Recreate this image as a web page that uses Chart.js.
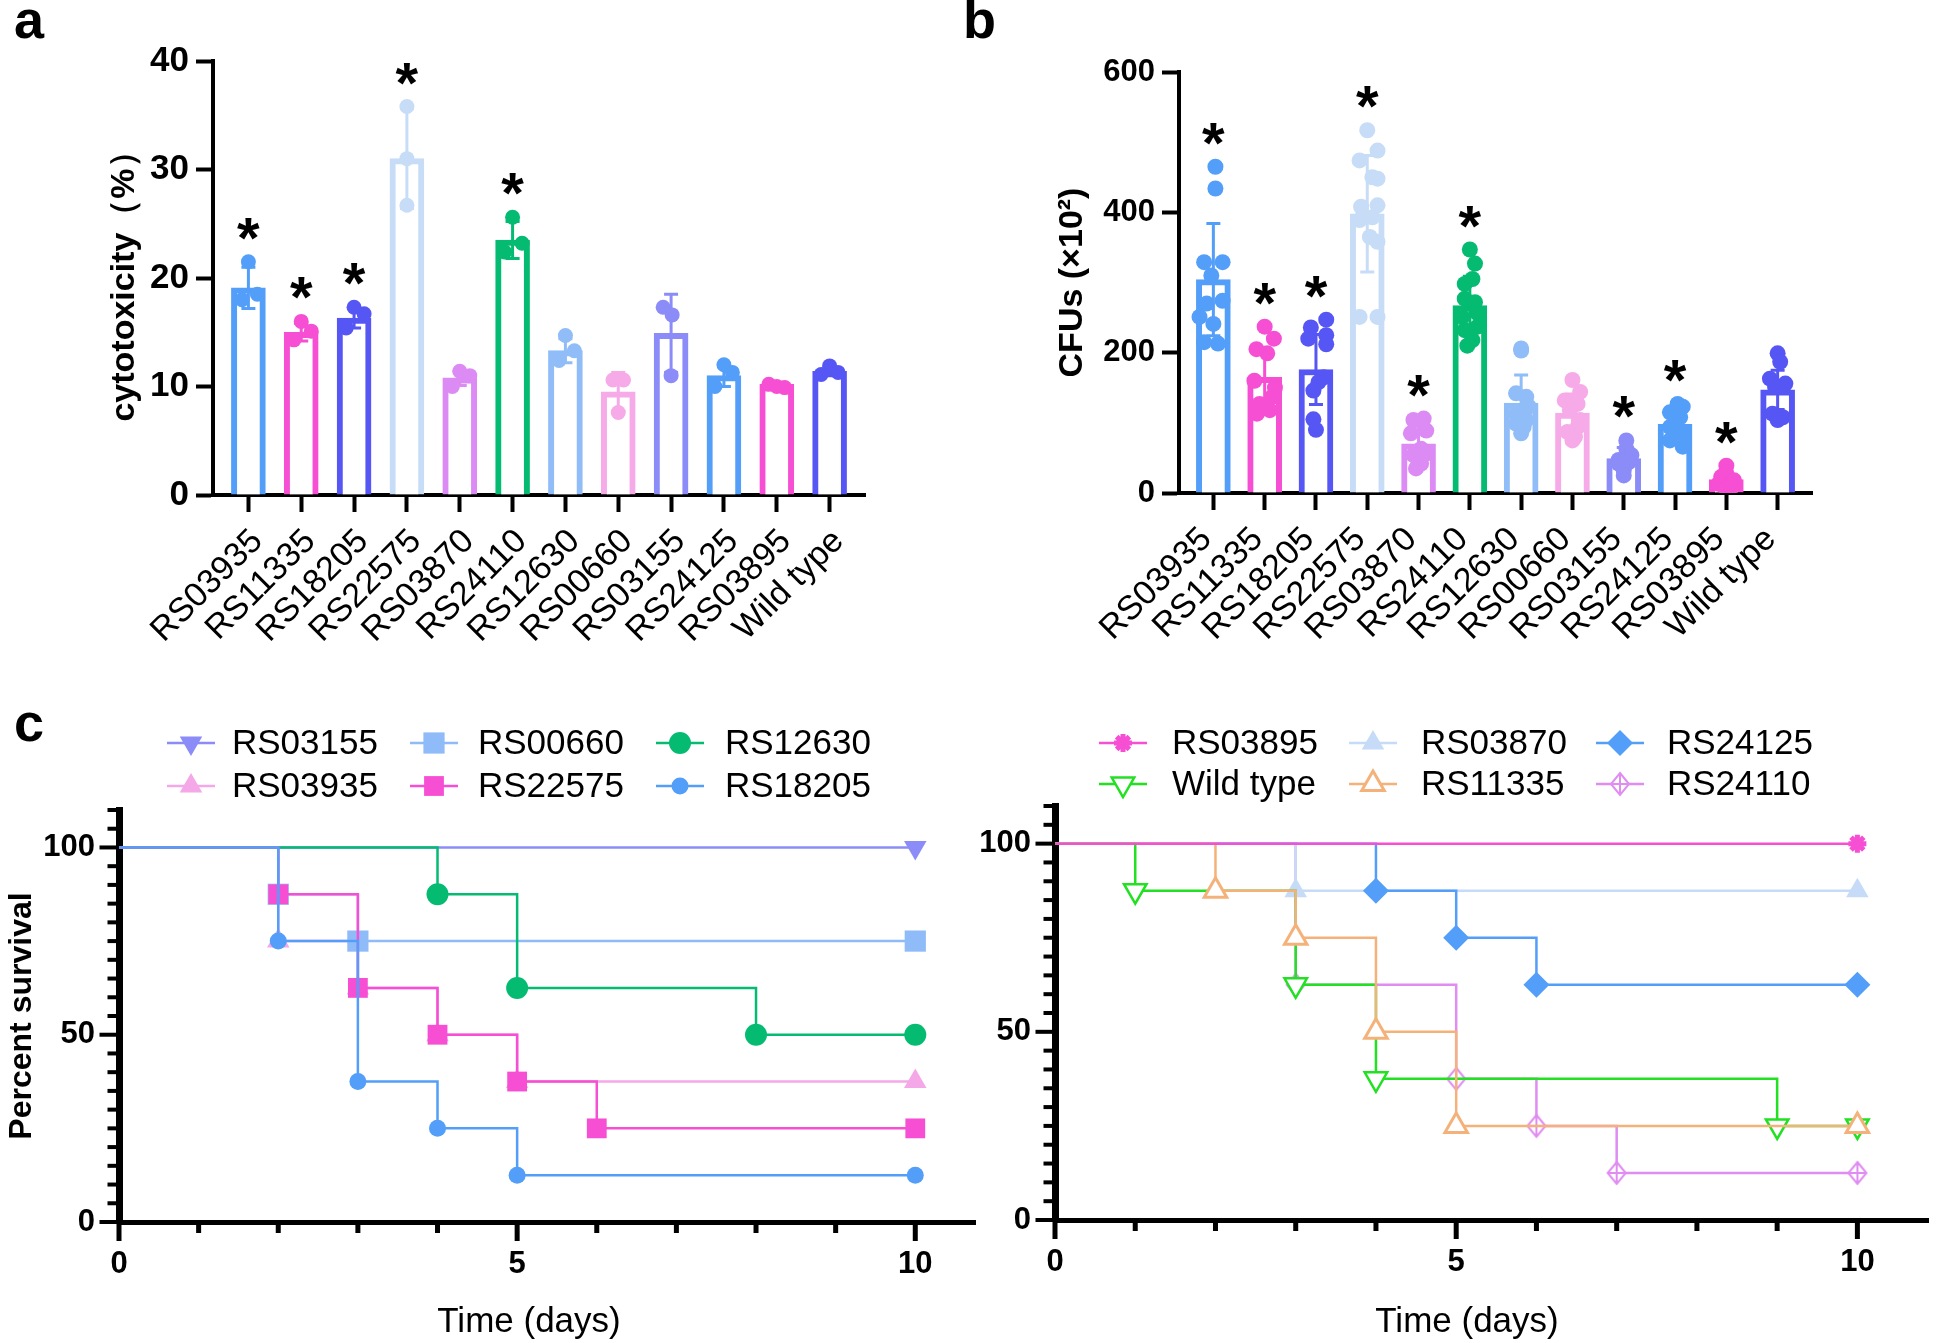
<!DOCTYPE html>
<html><head><meta charset="utf-8">
<script src="https://cdn.jsdelivr.net/npm/chart.js@4.4.1/dist/chart.umd.min.js"></script>
<style>
html,body{margin:0;padding:0;background:#fff;}
#wrap{position:relative;width:1944px;height:1343px;overflow:hidden;background:#fff;font-family:"Liberation Sans",Arial,sans-serif;}
canvas{position:absolute;}
.lbl{position:absolute;font-weight:bold;font-size:54px;line-height:1;color:#000;font-family:"Liberation Sans",Arial,sans-serif;}
</style></head><body>
<div id="wrap">
<canvas id="ca" width="890" height="700" style="left:0px;top:0px"></canvas>
<canvas id="cb" width="1044" height="700" style="left:900px;top:0px"></canvas>
<canvas id="cl" width="990" height="643" style="left:0px;top:700px"></canvas>
<canvas id="cr" width="984" height="643" style="left:960px;top:700px"></canvas>
<div class="lbl" style="left:14px;top:-8px">a</div>
<div class="lbl" style="left:963px;top:-8px">b</div>
<div class="lbl" style="left:14px;top:695px">c</div>
</div>
<script>
// ---------------- DATA ----------------
const categories = ['RS03935','RS11335','RS18205','RS22575','RS03870','RS24110','RS12630','RS00660','RS03155','RS24125','RS03895','Wild type'];
const barColors = ['#539ef8','#f64fd3','#5656f5','#c7dcf7','#dc8bf4','#05bb72','#90bdf8','#f6aae8','#8c8cf8','#539ef8','#f64fd3','#5656f5'];

// Panel a: cytotoxicity (%)
const cytoMeans = [19.1, 15.0, 16.3, 31.0, 10.8, 23.5, 13.3, 9.5, 14.9, 11.0, 10.2, 11.4];
const cytoSD    = [1.9, 0.8, 0.9, 4.6, 0.7, 1.7, 1.1, 1.8, 3.6, 1.0, 0.2, 0.4];
const cytoPoints = [[21.5,18.5,18.0],[16.0,15.1,14.3],[17.3,16.7,15.4],[35.8,31.0,26.7],[11.4,11.0,10.0],[25.6,23.2,22.4],
                    [14.7,13.3,12.4],[10.6,10.6,7.6],[17.3,16.6,11.0],[12.0,11.3,10.0],[10.2,10.0,9.9],[11.9,11.3,11.1]];
const cytoJitter = [[0,0.17,-0.12],[0,0.19,-0.14],[0,0.19,-0.15],[0,0,0],[0,0.19,-0.14],[0,0.18,-0.15],
                    [0,0.17,-0.12],[-0.1,0.1,0],[-0.15,0.02,0],[0,0.16,-0.17],[-0.15,0,0.15],[0,0.16,-0.16]];
const cytoSig = [1,1,1,1,0,1,0,0,0,0,0,0];

// Panel b: CFUs (x10^2)
const cfuMeans = [304, 165, 176, 398, 70, 267, 128, 114, 49, 98, 19, 147];
const cfuSD    = [80, 40, 50, 83, 25, 42, 40, 27, 16, 21, 12, 28];
const cfuPoints = [
  [465,434,329,329,310,270,274,251,241,215,213],
  [237,220,205,199,160,150,137,127,118,113],
  [247,236,225,220,212,165,158,146,105,90],
  [517,488,474,450,448,410,408,393,389,365,358,251,251],
  [106,104,89,85,63,56,54,42,35],
  [347,327,305,298,277,272,256,251,237,232,218,210],
  [206,203,142,137,123,113,104,99,94,85],
  [161,144,132,127,118,104,94,87,80,75],
  [75,63,54,47,44,42,32,25],
  [127,123,115,108,99,94,85,75,66],
  [39,28,23,18,13,9,6],
  [199,187,163,156,151,113,108,104]];
const cfuJitter = [
  [0.04,0.04,-0.18,0.18,-0.04,-0.13,0.18,-0.27,0,-0.18,0.09],
  [0,0.18,-0.16,0.05,-0.2,0.2,0.15,-0.1,0.1,-0.15],
  [0.2,-0.1,0.2,-0.15,0.2,0.15,0.05,-0.05,-0.05,0],
  [0,0.2,-0.15,0.1,0.2,0.2,-0.12,0.1,-0.15,0.05,0.2,-0.15,0.2],
  [0.1,-0.1,0.15,-0.15,0.05,0.15,-0.1,0.05,-0.05],
  [0,0.1,0.05,-0.1,-0.1,0.1,0.15,-0.15,0.15,-0.1,0.05,-0.05],
  [0,0,-0.1,0.1,0.15,-0.1,0.1,-0.1,0.05,0],
  [0,0.15,-0.15,0.1,-0.05,0.15,0.1,-0.1,0.05,0],
  [0.05,0.05,0.15,-0.1,0.1,-0.1,0,0],
  [0.05,0.15,-0.1,0.1,0,-0.1,0.15,-0.1,0.15],
  [0,0,-0.1,0.15,-0.15,0.1,0],
  [0,0.05,-0.15,0.15,-0.05,-0.1,0.1,0]];
const cfuSig = [1,1,1,1,1,1,0,0,1,1,1,0];

// Panel c (left): survival (%) at event times (days)
const daysRS03155 = [0,10],               survRS03155 = [100,100];
const daysRS03935 = [0,2,3,4,5,10],       survRS03935 = [100,75,62.5,50,37.5,37.5];
const daysRS00660 = [0,2,3,10],           survRS00660 = [100,87.5,75,75];
const daysRS22575 = [0,2,3,4,5,6,10],     survRS22575 = [100,87.5,62.5,50,37.5,25,25];
const daysRS12630 = [0,4,5,8,10],         survRS12630 = [100,87.5,62.5,50,50];
const daysRS18205 = [0,2,3,4,5,10],       survRS18205 = [100,75,37.5,25,12.5,12.5];
// Panel c (right)
const daysRS03895 = [0,10],               survRS03895 = [100,100];
const daysWildType = [0,1,3,4,9,10],      survWildType = [100,87.5,62.5,37.5,25,25];
const daysRS03870 = [0,3,10],             survRS03870 = [100,87.5,87.5];
const daysRS11335 = [0,2,3,4,5,10],       survRS11335 = [100,87.5,75,50,25,25];
const daysRS24125 = [0,4,5,6,10],         survRS24125 = [100,87.5,75,62.5,62.5];
const daysRS24110 = [0,3,5,6,7,10],       survRS24110 = [100,62.5,37.5,25,12.5,12.5];

// ---------------- RENDERING ----------------
const FONT = '"Liberation Sans", Arial, sans-serif';
Chart.defaults.font.family = FONT;
Chart.defaults.color = '#000';

function noPad(s) { s.paddingLeft = 0; s.paddingRight = 0; s.paddingTop = 0; s.paddingBottom = 0; }

function barChart(id, means, sds, pts, jit, sig, o) {
  const pointData = [], pointColors = [];
  pts.forEach((arr, i) => arr.forEach((v, k) => { pointData.push({x: i + jit[i][k], y: v}); pointColors.push(barColors[i]); }));
  const deco = {
    id: 'deco',
    afterDatasetDraw(chart, args) {
      if (args.meta.type !== 'bar') return;
      const ctx = chart.ctx, xs = chart.scales.x, ys = chart.scales.y;
      ctx.save();
      ctx.lineWidth = 3;
      means.forEach((m, i) => {
        const x = xs.getPixelForValue(i);
        const yT = ys.getPixelForValue(m + sds[i]), yB = ys.getPixelForValue(Math.max(0, m - sds[i]));
        ctx.strokeStyle = barColors[i];
        ctx.beginPath();
        ctx.moveTo(x, yT); ctx.lineTo(x, yB);
        ctx.moveTo(x - 7, yT); ctx.lineTo(x + 7, yT);
        ctx.moveTo(x - 7, yB); ctx.lineTo(x + 7, yB);
        ctx.stroke();
      });
      ctx.restore();
    },
    afterDatasetsDraw(chart) {
      const ctx = chart.ctx, xs = chart.scales.x, ys = chart.scales.y;
      ctx.save();
      ctx.fillStyle = '#000';
      ctx.font = 'bold 58px ' + FONT;
      ctx.textAlign = 'center';
      ctx.textBaseline = 'alphabetic';
      sig.forEach((s, i) => {
        if (!s) return;
        const top = Math.max(Math.max(...pts[i]), means[i] + sds[i]);
        const y = ys.getPixelForValue(top) - 38;
        ctx.fillText('*', xs.getPixelForValue(i), y + 34);
      });
      ctx.restore();
    },
    afterDraw(chart) {
      // rotated category labels, positioned from the x scale
      const ctx = chart.ctx, xs = chart.scales.x, ca = chart.chartArea;
      ctx.save();
      ctx.fillStyle = '#000';
      ctx.font = '34px ' + FONT;
      ctx.textAlign = 'right';
      ctx.textBaseline = 'middle';
      categories.forEach((c, i) => {
        ctx.save();
        ctx.translate(xs.getPixelForValue(i) + o.lx, ca.bottom + 41);
        ctx.rotate(-Math.PI / 4);
        ctx.fillText(c, 0, 0);
        ctx.restore();
      });
      ctx.restore();
    }
  };
  const axisGrid = {display: true, drawOnChartArea: false, drawTicks: true, tickLength: 17, tickWidth: 4, tickColor: '#000', offset: false};
  new Chart(document.getElementById(id), {
    type: 'bar',
    data: {datasets: [
      {type: 'bar', data: means.map((m, i) => ({x: i, y: m})), backgroundColor: '#fff', borderColor: barColors,
       borderWidth: 6, borderSkipped: 'start', barThickness: 34, order: 2},
      {type: 'scatter', data: pointData, pointRadius: o.pr, pointBackgroundColor: pointColors, pointBorderWidth: 0, order: 1}
    ]},
    options: {
      responsive: false, animation: false, devicePixelRatio: 1,
      layout: {padding: {left: 0, top: o.top, right: o.right, bottom: 0}},
      plugins: {legend: {display: false}, tooltip: {enabled: false}},
      scales: {
        x: {type: 'linear', min: -0.67, max: 11.67, offset: false,
            afterFit: s => { s.height = o.xh; noPad(s); },
            afterBuildTicks: s => { s.ticks = categories.map((c, i) => ({value: i})); },
            ticks: {display: false},
            grid: axisGrid, border: {display: true, width: 4, color: '#000'}},
        y: {type: 'linear', min: 0, max: o.ymax,
            afterFit: s => { s.width = o.yw; noPad(s); },
            ticks: {stepSize: o.step, font: {size: o.yfs, weight: 'bold'}, color: '#000', padding: 7},
            grid: axisGrid, border: {display: true, width: 4, color: '#000'},
            title: {display: true, text: o.title, font: {size: 34, weight: 'bold'}, color: '#000', padding: {top: o.tp, bottom: 0}}}
      }
    },
    plugins: [deco]
  });
}

barChart('ca', cytoMeans, cytoSD, cytoPoints, cytoJitter, cytoSig,
  {top: 61, right: 25, xh: 205, yw: 213, ymax: 40, step: 10, pr: 7.5, yfs: 35, title: 'cytotoxicity（%）', tp: 104, lx: 9});
barChart('cb', cfuMeans, cfuSD, cfuPoints, cfuJitter, cfuSig,
  {top: 72, right: 132, xh: 207, yw: 279, ymax: 600, step: 200, pr: 8, yfs: 31, title: 'CFUs (×10²)', tp: 152, lx: -7});

// ---- Kaplan-Meier ----
function diamondPlus(color, w, h) {
  const c = document.createElement('canvas'); c.width = w; c.height = h;
  const g = c.getContext('2d'); const cx = w / 2, cy = h / 2, rx = w / 2 - 2, ry = h / 2 - 2;
  g.strokeStyle = color; g.lineWidth = 2; g.fillStyle = '#fff';
  g.beginPath(); g.moveTo(cx, cy - ry); g.lineTo(cx + rx, cy); g.lineTo(cx, cy + ry); g.lineTo(cx - rx, cy); g.closePath();
  g.fill(); g.stroke();
  g.beginPath(); g.moveTo(cx, cy - ry); g.lineTo(cx, cy + ry); g.moveTo(cx - rx, cy); g.lineTo(cx + rx, cy); g.stroke();
  return c;
}

const leftSeries = [
  {name: 'RS03155', t: daysRS03155, s: survRS03155, color: '#8c8cf8', fill: '#8c8cf8', style: 'triangle', rot: 180, r: 13, bw: 0, order: 5},
  {name: 'RS03935', t: daysRS03935, s: survRS03935, color: '#f4a8e8', fill: '#f4a8e8', style: 'triangle', rot: 0, r: 13, bw: 0, order: 4},
  {name: 'RS00660', t: daysRS00660, s: survRS00660, color: '#8fbcf8', fill: '#8fbcf8', style: 'rect', rot: 0, r: 15, bw: 0, order: 3},
  {name: 'RS22575', t: daysRS22575, s: survRS22575, color: '#f64fd3', fill: '#f64fd3', style: 'rect', rot: 0, r: 14, bw: 0, order: 1},
  {name: 'RS12630', t: daysRS12630, s: survRS12630, color: '#05bb72', fill: '#05bb72', style: 'circle', rot: 0, r: 11, bw: 0, order: 2},
  {name: 'RS18205', t: daysRS18205, s: survRS18205, color: '#539ef8', fill: '#539ef8', style: 'circle', rot: 0, r: 8.5, bw: 0, order: 0}
];
const rightSeries = [
  {name: 'RS03895', t: daysRS03895, s: survRS03895, color: '#f64fd3', fill: '#f64fd3', style: 'star', rot: 0, r: 9, bw: 5, order: 0},
  {name: 'Wild type', t: daysWildType, s: survWildType, color: '#22e022', fill: '#ffffff', style: 'triangle', rot: 180, r: 13, bw: 2.5, order: 2},
  {name: 'RS03870', t: daysRS03870, s: survRS03870, color: '#c5dbf7', fill: '#c5dbf7', style: 'triangle', rot: 0, r: 13, bw: 0, order: 4},
  {name: 'RS11335', t: daysRS11335, s: survRS11335, color: '#f4b27a', fill: '#ffffff', style: 'triangle', rot: 0, r: 13, bw: 3, order: 1},
  {name: 'RS24125', t: daysRS24125, s: survRS24125, color: '#539ef8', fill: '#539ef8', style: 'rectRot', rot: 0, r: 13, bw: 0, order: 3},
  {name: 'RS24110', t: daysRS24110, s: survRS24110, color: '#e08cf2', fill: '#ffffff', style: diamondPlus('#e08cf2', 22, 26), rot: 0, r: 12, bw: 0, order: 5}
];

function kmChart(id, series, o) {
  const deco = {
    id: 'kmdeco',
    afterDraw(chart) {
      const ctx = chart.ctx, ca = chart.chartArea, xs = chart.scales.x, ys = chart.scales.y;
      ctx.save();
      ctx.fillStyle = '#000';
      for (let d = 0; d <= 10; d++) {
        const px = xs.getPixelForValue(d);
        const len = d % 5 === 0 ? 17 : 9;
        ctx.fillRect(px - 2.5, ca.bottom, 5, len + 2);
      }
      for (let v = 0; v <= 110; v += 5) {
        const py = ys.getPixelForValue(v);
        const len = v % 50 === 0 ? 16 : 8;
        ctx.fillRect(ca.left - 3.5 - len, py - 2, len + 3.5, 4);
      }
      // axis title
      ctx.font = '35px ' + FONT;
      ctx.textAlign = 'center'; ctx.textBaseline = 'middle';
      ctx.fillText('Time (days)', o.titleX, o.titleY);
      // legend
      chart.data.datasets.forEach((ds, i) => {
        const s = series[i];
        const col = Math.floor(i / 2), row = i % 2;
        const mx = o.legX[col], my = o.legY[row];
        ctx.strokeStyle = s.color; ctx.lineWidth = 2.5;
        ctx.beginPath(); ctx.moveTo(mx - 24, my); ctx.lineTo(mx + 24, my); ctx.stroke();
        ctx.fillStyle = s.fill; ctx.strokeStyle = s.color; ctx.lineWidth = s.bw;
        Chart.helpers.drawPoint(ctx, {pointStyle: s.style, rotation: s.rot, radius: s.r, borderWidth: s.bw}, mx, my);
        ctx.fillStyle = '#000';
        ctx.font = '35px ' + FONT;
        ctx.textAlign = 'left'; ctx.textBaseline = 'middle';
        ctx.fillText(s.name, o.textX[col], my + 1);
      });
      ctx.restore();
    }
  };
  new Chart(document.getElementById(id), {
    type: 'line',
    data: {datasets: series.map(s => ({
      label: s.name,
      data: s.t.map((t, k) => ({x: t, y: s.s[k]})),
      stepped: true, borderColor: s.color, borderWidth: 2.5, fill: false,
      pointStyle: s.style, pointRotation: s.rot,
      pointRadius: c => c.dataIndex === 0 ? 0 : s.r,
      pointBackgroundColor: s.fill, pointBorderColor: s.color, pointBorderWidth: s.bw,
      order: s.order
    }))},
    options: {
      responsive: false, animation: false, devicePixelRatio: 1,
      layout: {padding: {left: 0, top: o.top, right: o.right, bottom: 0}},
      plugins: {legend: {display: false}, tooltip: {enabled: false}},
      scales: {
        x: {type: 'linear', min: 0, max: o.xmax,
            afterFit: s => { s.height = o.xh; noPad(s); },
            afterBuildTicks: s => { s.ticks = [0, 5, 10].map(v => ({value: v})); },
            grid: {display: false, drawTicks: false}, border: {display: true, width: 5, color: '#000'},
            ticks: {font: {size: 31, weight: 'bold'}, color: '#000', padding: 24, maxRotation: 0}},
        y: {type: 'linear', min: 0, max: 110,
            afterFit: s => { s.width = o.yw; noPad(s); },
            afterBuildTicks: s => { s.ticks = [0, 50, 100].map(v => ({value: v})); },
            grid: {display: false, drawTicks: false}, border: {display: true, width: 7, color: '#000'},
            ticks: {font: {size: 31, weight: 'bold'}, color: '#000', padding: 24},
            title: {display: o.ytitle !== '', text: o.ytitle, font: {size: 32, weight: 'bold'}, color: '#000', padding: {top: 3, bottom: 0}}}
      }
    },
    plugins: [deco]
  });
}

kmChart('cl', leftSeries, {top: 110, right: 11, xh: 121, yw: 119, xmax: 10.75, ytitle: 'Percent survival',
  titleX: 529, titleY: 622, legX: [191, 434, 680], textX: [232, 478, 725], legY: [43, 86]});
kmChart('cr', rightSeries, {top: 106, right: 1, xh: 123, yw: 95, xmax: 10.88, ytitle: '',
  titleX: 507, titleY: 622, legX: [163, 413, 660], textX: [212, 461, 707], legY: [43, 84]});
</script>
</body></html>
